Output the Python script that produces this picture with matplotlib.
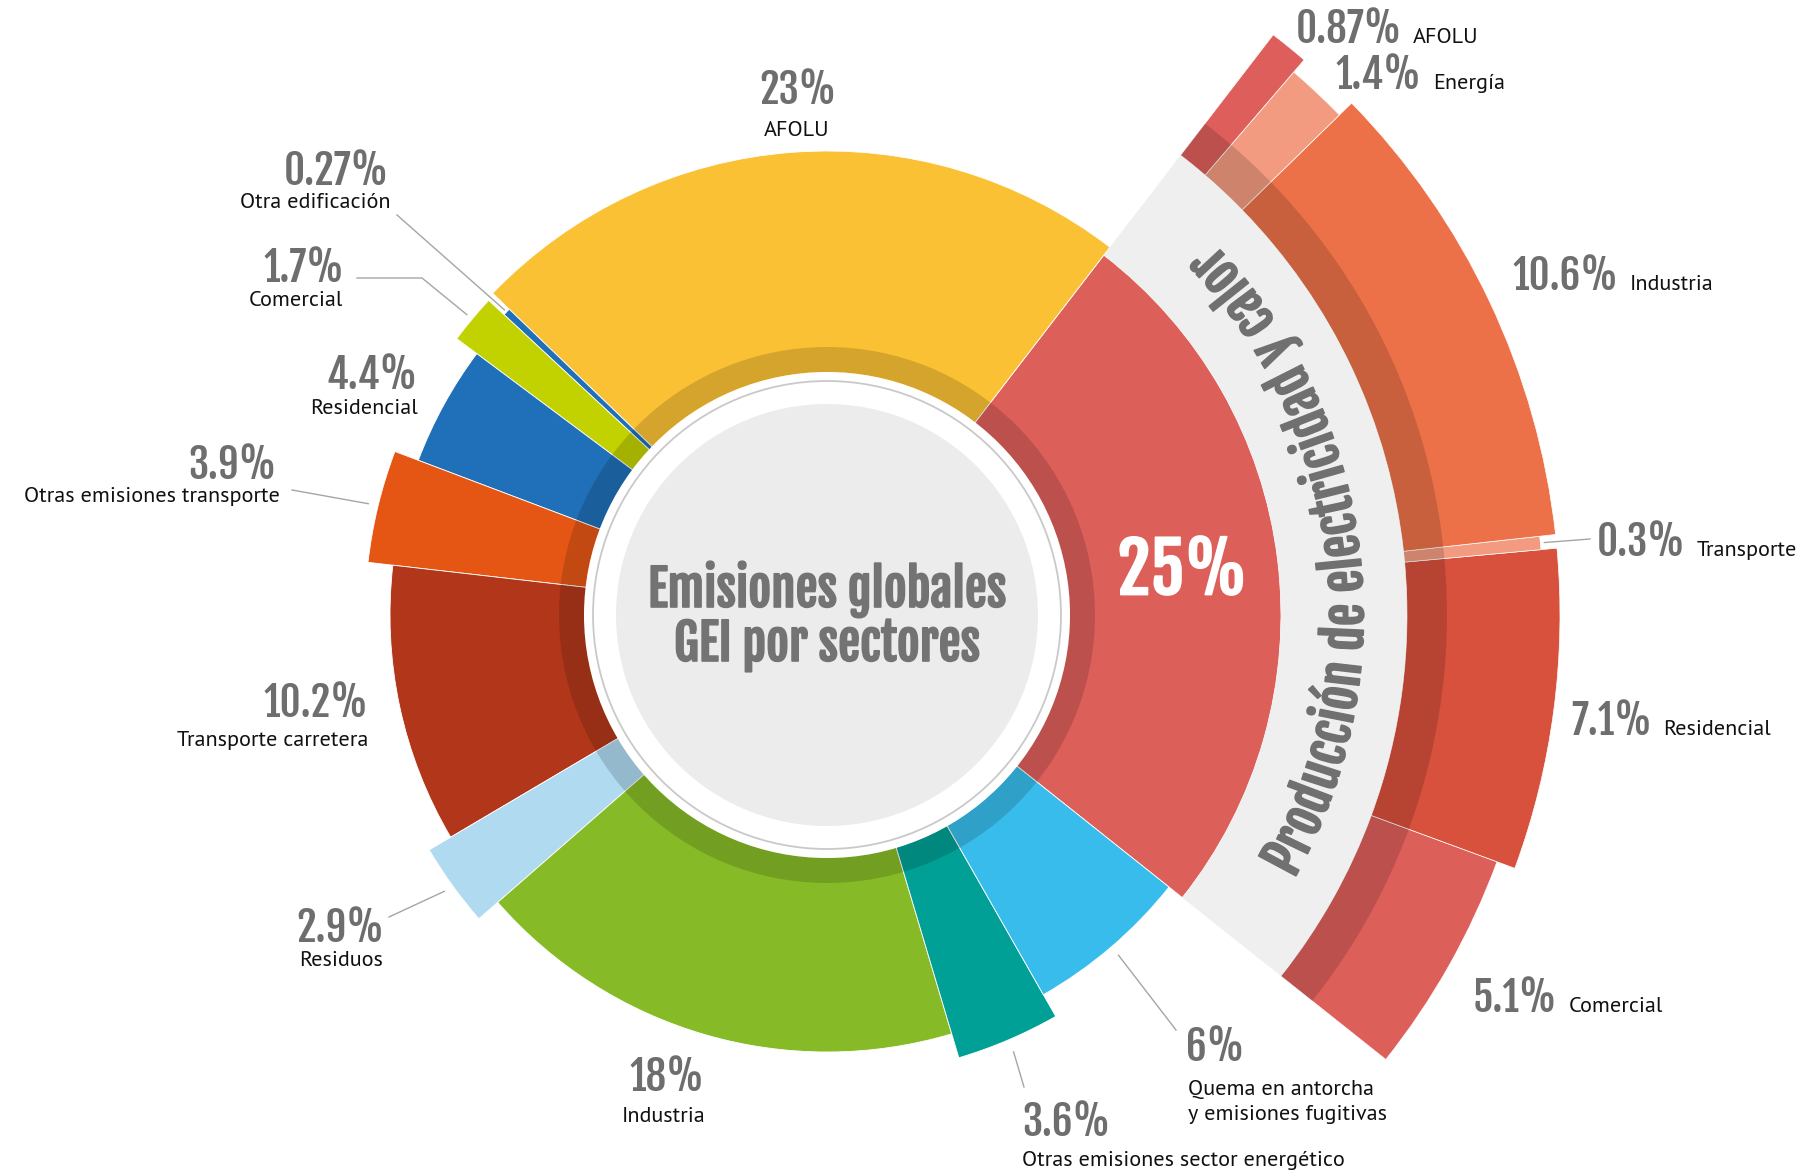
import os
import numpy as np
import matplotlib
matplotlib.use("Agg")
import matplotlib.pyplot as plt
from matplotlib.patches import Wedge, Circle
from matplotlib import font_manager, patheffects
from matplotlib.font_manager import FontProperties
from matplotlib.ft2font import FT2Font

# --- data -------------------------------------------------------------
main_labels = ["Producción de electricidad y calor", "AFOLU", "Otra edificación", "Comercial",
               "Residencial", "Otras emisiones transporte", "Transporte carretera", "Residuos",
               "Industria", "Otras emisiones sector energético",
               "Quema en antorcha\ny emisiones fugitivas"]
main_values = [25, 23, 0.27, 1.7, 4.4, 3.9, 10.2, 2.9, 18, 3.6, 6]

# breakdown of "Producción de electricidad y calor" (counter-clockwise)
sub_labels = ["Comercial", "Residencial", "Transporte", "Industria", "Energía", "AFOLU"]
sub_values = [5.1, 7.1, 0.3, 10.6, 1.4, 0.87]

center_title = "Emisiones globales\nGEI por sectores"

# --- style ------------------------------------------------------------
main_colors = ["#DD5F5A", "#FBC134", "#1F70B8", "#C2D100", "#1F70B8", "#E55615",
               "#B2371A", "#B0DAF0", "#86BB27", "#01A096", "#38BCEC"]
main_radius = [454, 464, 441, 462, 437, 462, 437, 462, 437, 462, 437]
sub_colors = ["#DD5F5A", "#D8513D", "#F29B80", "#EC7148", "#F29B80", "#DE5E5B"]
sub_radius = [714, 733, 717, 733, 716, 732]

W, H = 1814, 1174
CX, CY = 827, 615
START = -38.5
PCT_COL = "#6E6E6E"
NAME_COL = "#111111"
LEAD_COL = "#A5A5A5"


def pick_font(candidates, weight, tag):
    fl = font_manager.fontManager.ttflist
    for name in candidates:
        fs = [f for f in fl if f.name == name and f.style == "normal"
              and "[" not in f.fname and "Italic" not in f.fname]
        if not fs:
            continue
        tagged = [f for f in fs if tag in os.path.basename(f.fname)
                  and not any(k in os.path.basename(f.fname)
                              for k in ("Semi", "Extra", "Light", "Medium", "Black"))]
        if tagged:
            return tagged[0].fname

        def dist(f):
            try:
                return abs(int(f.weight) - weight)
            except (TypeError, ValueError):
                return 500
        return min(fs, key=dist).fname
    return font_manager.findfont(FontProperties(family="DejaVu Sans", weight=weight))


COND_PATH = pick_font(["Fjalla One", "Oswald", "Roboto Condensed", "PT Sans Narrow",
                       "Archivo Narrow", "Liberation Sans Narrow"], 700, "Regular")
TXT_PATH = pick_font(["Source Sans 3", "Source Sans Pro", "PT Sans", "Open Sans"], 400,
                     "Regular")


def cap_ratio(path):
    f = FT2Font(path)
    f.set_size(100, 72)
    g = f.load_char(ord("H"))
    return g.height / 64.0 / 100.0


def fprop(path, cap_px):
    # font size (pt at 100 dpi) giving the wanted cap height in pixels
    return FontProperties(fname=path, size=cap_px / cap_ratio(path) * 0.72)


def px(x, y):
    # picture pixel -> data coords (centre of the ring at 0,0)
    return x - CX, CY - y


def polar(r, ang):
    a = np.radians(ang)
    return r * np.cos(a), r * np.sin(a)


def bold(col, lw=1.0):
    return [patheffects.withStroke(linewidth=lw, foreground=col)]


fp_pct = fprop(COND_PATH, 34)
fp_name = fprop(TXT_PATH, 15.5)

fig = plt.figure(figsize=(W / 100, H / 100), dpi=100)
ax = fig.add_axes([0, 0, 1, 1])
ax.set_xlim(-CX, W - CX)
ax.set_ylim(CY - H, CY)
ax.axis("off")

deg_per = 360.0 / sum(main_values)
edges = START + np.concatenate([[0], np.cumsum(main_values)]) * deg_per
span = edges[1] - edges[0]
sub_edges = edges[0] + np.concatenate([[0], np.cumsum(sub_values)]) * span / sum(sub_values)

# inner ring
for i in range(len(main_values)):
    ax.add_patch(Wedge((0, 0), main_radius[i], edges[i], edges[i + 1],
                       facecolor=main_colors[i], edgecolor="white", lw=0.6, zorder=1))
ax.add_patch(Wedge((0, 0), 268, 0, 360, width=25, facecolor="black", alpha=0.15,
                   edgecolor="none", zorder=3))

# grey band + outer ring
ax.add_patch(Wedge((0, 0), 580, edges[0], edges[1], width=580 - 454,
                   facecolor="#EFEFEF", edgecolor="none", zorder=2))
for j in range(len(sub_values)):
    ax.add_patch(Wedge((0, 0), sub_radius[j], sub_edges[j], sub_edges[j + 1],
                       width=sub_radius[j] - 580, facecolor=sub_colors[j],
                       edgecolor="white", lw=0.5, zorder=2))
ax.add_patch(Wedge((0, 0), 620, edges[0], edges[1], width=40, facecolor="black",
                   alpha=0.15, edgecolor="none", zorder=3))

# centre
ax.add_patch(Circle((0, 0), 243, facecolor="white", edgecolor="none", zorder=4))
ax.add_patch(Circle((0, 0), 234, fill=False, edgecolor="#C9C9C9", lw=1.3, zorder=5))
ax.add_patch(Circle((0, 0), 211, facecolor="#ECECEC", edgecolor="none", zorder=5))
ax.text(0, -2, center_title, ha="center", va="center", fontproperties=fprop(COND_PATH, 41),
        color="#737373", linespacing=1.0, zorder=6, path_effects=bold("#737373", 1.2))

# 25% in the big wedge
mid0 = (edges[0] + edges[1]) / 2
x0, y0 = polar(358, mid0)
ax.text(x0, y0, f"{main_values[0]:g}%", ha="center", va="center",
        fontproperties=fprop(COND_PATH, 57), color="white", zorder=6,
        path_effects=bold("white", 1.2))

# curved title in the grey band, sized to fill its arc
r_txt = 519
theta_lo, theta_hi = -29.5, 44.0
font = FT2Font(COND_PATH)
font.set_size(40, 100)
adv0 = [font.load_char(ord(c)).linearHoriAdvance / 65536.0 for c in main_labels[0]]
scale = np.radians(theta_hi - theta_lo) * r_txt / sum(adv0)
fp_arc = FontProperties(fname=COND_PATH, size=40 * scale)
adv = [a * scale for a in adv0]
total = sum(adv)
theta_mid = (theta_lo + theta_hi) / 2
xpos = 0.0
for c, a in zip(main_labels[0], adv):
    centre = xpos + a / 2
    ang = theta_mid - np.degrees((total / 2 - centre) / r_txt)
    xpos += a
    if c == " ":
        continue
    tx, ty = polar(r_txt, ang)
    ax.text(tx, ty, c, ha="center", va="center", rotation=ang + 90, rotation_mode="anchor",
            fontproperties=fp_arc, color="#707070", zorder=6,
            path_effects=bold("#707070", 1.2))

# labels of inner ring: (pct centre px, ha, name centre px)
main_pos = [None,
            ((798, 90), "center", (797, 130)),
            ((389, 171), "right", (390, 203)),
            ((344, 268), "right", (343, 301)),
            ((418, 375), "right", (418, 408)),
            ((277, 465), "right", (280, 497)),
            ((368, 703), "right", (368, 741)),
            ((384, 928), "right", (383, 960)),
            ((704, 1077), "right", (705, 1116)),
            ((1022, 1122), "left", (1022, 1161)),
            ((1186, 1047), "left", (1188, 1102))]
for i in range(1, len(main_values)):
    (pxy, ha, nxy) = main_pos[i]
    ax.text(*px(*pxy), f"{main_values[i]:g}%", ha=ha, va="center", fontproperties=fp_pct,
            color=PCT_COL)
    ax.text(*px(*nxy), main_labels[i], ha=ha, va="center", fontproperties=fp_name,
            color=NAME_COL, linespacing=1.45)

# leader lines: wedge index, gap beyond the wedge, then end points in px
leaders = [(2, 3, [(397, 215)]),
           (3, 7, [(422, 278), (357, 278)]),
           (5, 10, [(292, 490)]),
           (7, 10, [(389, 917)]),
           (9, 13, [(1024, 1087)]),
           (10, 11, [(1176, 1030)])]
for i, gap, pts in leaders:
    mid = (edges[i] + edges[i + 1]) / 2
    sx, sy = polar(main_radius[i] + gap, mid)
    xs, ys = [sx], [sy]
    for p in pts:
        xs.append(px(*p)[0])
        ys.append(px(*p)[1])
    ax.plot(xs, ys, color=LEAD_COL, lw=1.0, zorder=6)

# outer ring labels: pct left edge and centre y in px
sub_pos = [(1473, 995), (1571, 718), (1597, 539), (1513, 273), (1336, 72), (1296, 26)]
renderer = fig.canvas.get_renderer()
for j in range(len(sub_values)):
    xl, yc = px(*sub_pos[j])
    base = yc - 17
    t = ax.text(xl, base, f"{sub_values[j]:g}%", ha="left", va="baseline",
                fontproperties=fp_pct, color=PCT_COL)
    bb = t.get_window_extent(renderer)
    xn = ax.transData.inverted().transform((bb.x1 + 11, 0))[0]
    ax.text(xn, base, sub_labels[j], ha="left", va="baseline", fontproperties=fp_name,
            color=NAME_COL)

mid_t = (sub_edges[2] + sub_edges[3]) / 2
sx, sy = polar(sub_radius[2] + 4, mid_t)
ex, ey = px(1590, 539)
ax.plot([sx, ex], [sy, ey], color=LEAD_COL, lw=1.0, zorder=6)

fig.savefig("out.png", dpi=100, facecolor="white")
